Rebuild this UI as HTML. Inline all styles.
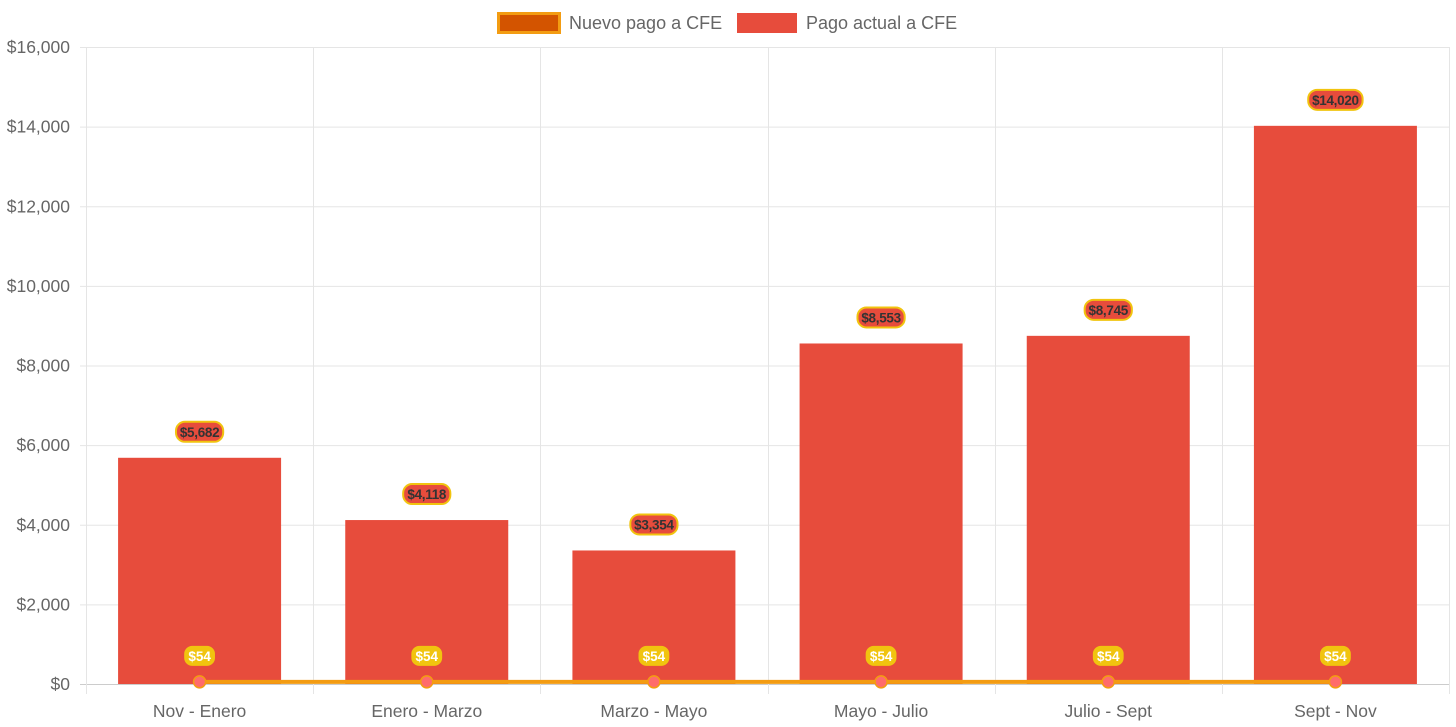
<!DOCTYPE html>
<html><head><meta charset="utf-8"><style>
body{margin:0;background:#fff;font-family:"Liberation Sans",Arial,sans-serif}
svg{display:block}
</style></head><body>
<svg id="c" width="1456" height="727" xmlns="http://www.w3.org/2000/svg">
<g>
<g>
<rect x="498.5" y="13.5" width="61" height="19" fill="#d35400" stroke="#f39c12" stroke-width="3"/>
<text x="569" y="29" font-size="18" fill="#666">Nuevo pago a CFE</text></g>
<g>
<rect x="737" y="13" width="60" height="20" fill="#e74c3c"/>
<text x="806" y="29" font-size="18" fill="#666">Pago actual a CFE</text></g>
</g>
<g id="grid"></g>
<g id="bars"></g>
<g id="line"></g>
<g id="labels"></g>
</svg>
<script>
const categories=["Nov - Enero","Enero - Marzo","Marzo - Mayo","Mayo - Julio","Julio - Sept","Sept - Nov"];
const actual=[5682,4118,3354,8553,8745,14020];
const nuevo=[54,54,54,54,54,54];
const yTicks=[0,2000,4000,6000,8000,10000,12000,14000,16000];
const L=86,R=1449,T=47,B=684,MAX=16000;
const NS="http://www.w3.org/2000/svg";
const cw=(R-L)/categories.length;
const x=i=>L+cw*(i+0.5);
const y=v=>B-(v/MAX)*(B-T);
const fmt=v=>"$"+v.toLocaleString("en-US");
function mk(tag,attrs,parent,txt){const e=document.createElementNS(NS,tag);for(const k in attrs)e.setAttribute(k,attrs[k]);if(txt!==undefined)e.textContent=txt;parent.appendChild(e);return e;}
const g=document.getElementById('grid');
yTicks.forEach(t=>{
 const l=mk('line',{x1:L-6,x2:R,y1:y(t)+0.5,y2:y(t)+0.5,stroke:t===0?'#ccc':'#e5e5e5','stroke-width':1},g);
 
 
 const tx=mk('text',{x:L-16,y:y(t)+6,'text-anchor':'end','font-size':17.5,fill:'#666'},g,fmt(t));
 
 
});
for(let i=0;i<=categories.length;i++){
 const xx=Math.round(L+cw*i)+0.5;
 const l=mk('line',{x1:xx,x2:xx,y1:T,y2:B+10,stroke:'#e5e5e5','stroke-width':1},g);
 
 
}
categories.forEach((c,i)=>{
 const tx=mk('text',{x:x(i),y:717,'text-anchor':'middle','font-size':17.5,fill:'#666'},g,c);
 
 
});
const bg=document.getElementById('bars'),lb=document.getElementById('labels');
const bw=163;
actual.forEach((v,i)=>{
 const r=mk('rect',{x:x(i)-bw/2,y:y(v),width:bw,height:B-y(v),fill:'#e74c3c'},bg);
 
 
 const s=fmt(v),w=s.length*7.2+4;
 const gg=mk('g',{},lb);
 
 
 mk('rect',{x:x(i)-w/2,y:y(v)-36,width:w,height:20,rx:9,fill:'#e74c3c',stroke:'#f1c40f','stroke-width':2},gg);
 mk('text',{x:x(i),y:y(v)-21,'text-anchor':'middle','font-size':13.5,'font-weight':'bold',fill:'#333','letter-spacing':-0.3},gg,s);
});
const ln=document.getElementById('line');
const p=mk('polyline',{points:nuevo.map((v,i)=>x(i)+','+y(v)).join(' '),fill:'none',stroke:'#f39c12','stroke-width':4},ln);


nuevo.forEach((v,i)=>{
 const c=mk('circle',{cx:x(i),cy:y(v),r:6,fill:'#ff6b6b',stroke:'#f39c12','stroke-width':1.5},ln);
 
 
 const s=fmt(v),w=s.length*7.6+8;
 const gg=mk('g',{},lb);
 
 
 mk('rect',{x:x(i)-w/2,y:y(v)-36,width:w,height:20,rx:8,fill:'#f1c40f'},gg);
 mk('text',{x:x(i),y:y(v)-21,'text-anchor':'middle','font-size':13.5,'font-weight':'bold',fill:'#fff'},gg,s);
});
</script>
</body></html>
